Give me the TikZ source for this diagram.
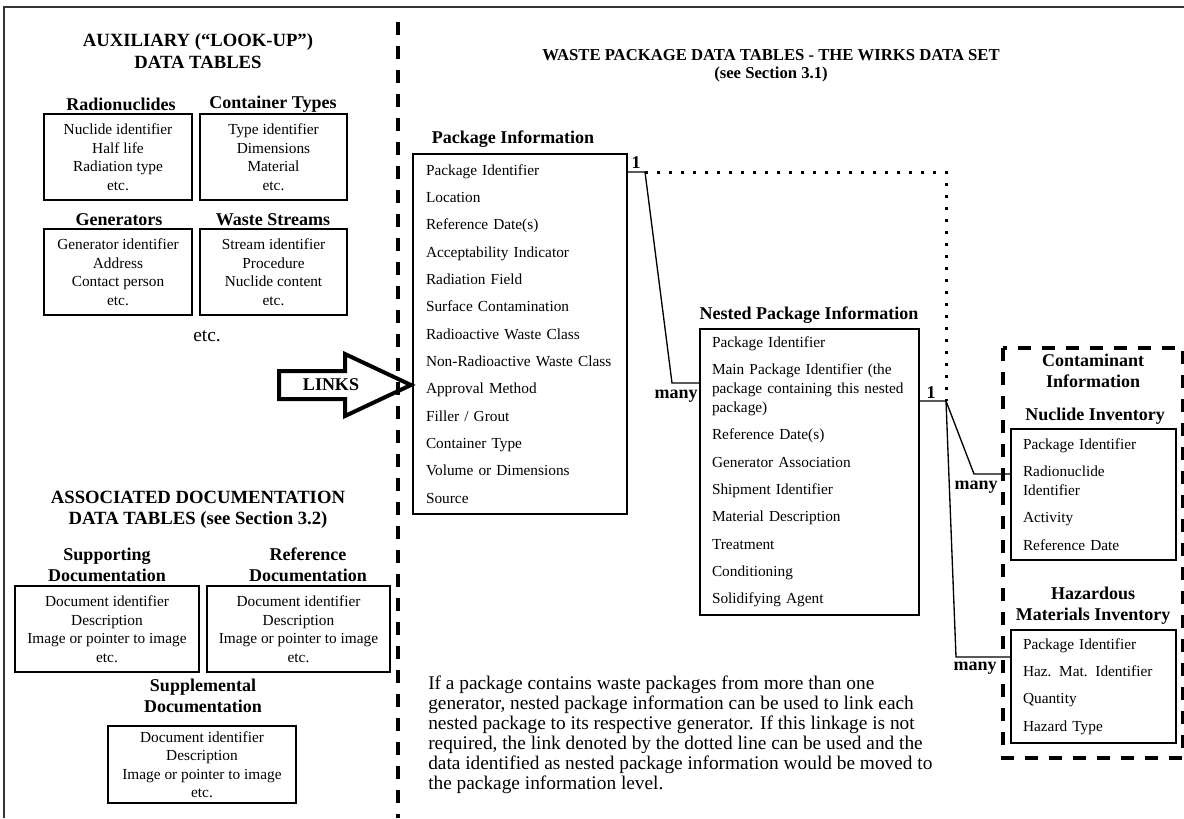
\documentclass[tikz,border=0pt]{standalone}
\usepackage{fontspec}
\setmainfont{Liberation Serif}
\usepackage{tikz}
\newcommand{\tabfont}{\fontsize{11.5}{13.9}\selectfont}
\newcommand{\entryfont}{\fontsize{11.5}{20.5}\selectfont}
\newcommand{\headfont}{\fontsize{13.5}{15.5}\selectfont\bfseries}
\newcommand{\bigheadfont}{\fontsize{14}{16}\selectfont\bfseries}

\begin{document}
\begin{tikzpicture}[x=0.75pt, y=-0.75pt,
    tablebox/.style={draw, line width=1pt, align=center, font=\tabfont, inner sep=0pt},
    entrybox/.style={draw, line width=1pt, align=left, font=\entryfont, inner ysep=0pt},
    tablehead/.style={align=center, font=\headfont},
    sectionhead/.style={align=center, font=\bigheadfont},
    cardinality/.style={font=\headfont, inner sep=0pt},
    divider/.style={line width=3pt, dash pattern=on 9.5pt off 8.5pt},
    relation/.style={line width=1pt}
  ]
  \useasboundingbox (0,0) rectangle (1184,818);
  % frame and divider
  \draw[line width=1pt, black!80] (4,818) -- (4,7) -- (1184,7);
  \draw[divider] (398,22) -- (398,818);

  % auxiliary look-up tables
  \node[sectionhead] (auxhead) at (198,51) {AUXILIARY (“LOOK-UP”)\\DATA TABLES};
  \node[tablehead] (radhead) at (121,104) {Radionuclides};
  \node[tablehead] (typehead) at (273,104) {Container Types};
  \node[tablebox, minimum width=111pt, minimum height=64.5pt] (radbox) at (118,157) {Nuclide identifier\\Half life\\Radiation type\\etc.};
  \node[tablebox, minimum width=110.25pt, minimum height=64.5pt] (typebox) at (273.5,157) {Type identifier\\Dimensions\\Material\\etc.};
  \node[tablehead] (genhead) at (119,220) {Generators};
  \node[tablehead] (streamhead) at (273,220) {Waste Streams};
  \node[tablebox, minimum width=111pt, minimum height=64.5pt] (genbox) at (118,272) {Generator identifier\\Address\\Contact person\\etc.};
  \node[tablebox, minimum width=110.25pt, minimum height=64.5pt] (streambox) at (273.5,272) {Stream identifier\\Procedure\\Nuclide content\\etc.};
  \node[font=\fontsize{14.5}{16}\selectfont] (auxetc) at (207,336) {etc.};

  % links arrow
  \draw[line width=3pt, line join=miter] (279,371) -- (345,371) -- (345,354) -- (411,385)
    -- (345,416) -- (345,399) -- (279,399) -- cycle;
  \node[font=\headfont] (links) at (331,385) {LINKS};

  % associated documentation tables
  \node[sectionhead] (dochead) at (198,510) {ASSOCIATED DOCUMENTATION\\DATA TABLES (see Section 3.2)};
  \node[tablehead] (supphead) at (107,565) {Supporting\\Documentation};
  \node[tablehead] (refhead) at (308,565) {Reference\\Documentation};
  \node[tablebox, minimum width=138pt, minimum height=64.5pt] (suppbox) at (107,629) {Document identifier\\Description\\Image or pointer to image\\etc.};
  \node[tablebox, minimum width=137.25pt, minimum height=64.5pt] (refbox) at (298.5,629) {Document identifier\\Description\\Image or pointer to image\\etc.};
  \node[tablehead] (supplhead) at (203,696) {Supplemental\\Documentation};
  \node[tablebox, minimum width=141pt, minimum height=57.75pt] (supplbox) at (202,764.5) {Document identifier\\Description\\Image or pointer to image\\etc.};

  % waste package tables
  \node[font=\fontsize{12.5}{13.5}\selectfont\bfseries, align=center] (wirkshead) at (771,66) {WASTE PACKAGE DATA TABLES - THE WIRKS DATA SET\\(see Section 3.1)};
  \node[tablehead] (pkghead) at (513,139) {Package Information};
  \node[entrybox, text width=141pt, inner xsep=9.75pt, minimum height=270pt] (pkg) at (520,334)
    {Package Identifier\\Location\\Reference Date(s)\\Acceptability Indicator\\Radiation Field\\Surface Contamination\\Radioactive Waste Class\\Non-Radioactive Waste Class\\Approval Method\\Filler / Grout\\Container Type\\Volume or Dimensions\\Source};
  \node[tablehead] (nesthead) at (809,315) {Nested Package Information};
  \node[entrybox, text width=146.25pt, inner xsep=9pt, minimum height=214.5pt] (nest) at (809.5,472)
    {Package Identifier\\Main Package Identifier (the\\[-6.4pt]package containing this nested\\[-6.4pt]package)\\Reference Date(s)\\Generator Association\\Shipment Identifier\\Material Description\\Treatment\\Conditioning\\Solidifying Agent};

  % contaminant information
  \draw[divider] (1003,348) rectangle (1183,758);
  \node[tablehead] (contamhead) at (1093,371) {Contaminant\\Information};
  \node[tablehead] (nuchead) at (1095,416) {Nuclide Inventory};
  \node[entrybox, text width=105.75pt, inner xsep=9pt, minimum height=98.25pt] (nuc) at (1093.5,494.5)
    {Package Identifier\\Radionuclide\\[-6.4pt]Identifier\\Activity\\Reference Date};
  \node[tablehead] (hazhead) at (1093,606) {Hazardous\\Materials Inventory};
  \node[entrybox, text width=105.75pt, inner xsep=9pt, minimum height=84.75pt] (haz) at (1093.5,686.5)
    {Package Identifier\\Haz. Mat. Identifier\\Quantity\\Hazard Type};

  % relations
  \coordinate (pkgjoint) at (645,172);
  \coordinate (pkgbend) at (672,383);
  \coordinate (nestjoint) at (946,401);
  \coordinate (nucbend) at (974,474);
  \coordinate (hazbend) at (956,657);
  \draw[relation] (pkg.east |- pkgjoint) -- (pkgjoint) -- (pkgbend) -- (pkgbend -| nest.west);
  \draw[line width=2.25pt, dash pattern=on 2.25pt off 6.75pt] (pkgjoint) -- (pkgjoint -| nestjoint) -- (nestjoint);
  \draw[relation] (nest.east |- nestjoint) -- (nestjoint) -- (nucbend) -- (nucbend -| nuc.west);
  \draw[relation] (nestjoint) -- (hazbend) -- (hazbend -| haz.west);
  \node[cardinality] (pkgone) at (636,163) {1};
  \node[cardinality] (pkgmany) at (676,396) {many};
  \node[cardinality] (nestone) at (931,393) {1};
  \node[cardinality] (nucmany) at (976,487) {many};
  \node[cardinality] (hazmany) at (975,668) {many};

  % note
  \node[anchor=north west, align=left, font=\fontsize{14.5}{15}\selectfont, inner sep=0pt] (note) at (428,676)
    {If a package contains waste packages from more than one\\generator, nested package information can be used to link each\\nested package to its respective generator. If this linkage is not\\required, the link denoted by the dotted line can be used and the\\data identified as nested package information would be moved to\\the package information level.};
\end{tikzpicture}
\end{document}
